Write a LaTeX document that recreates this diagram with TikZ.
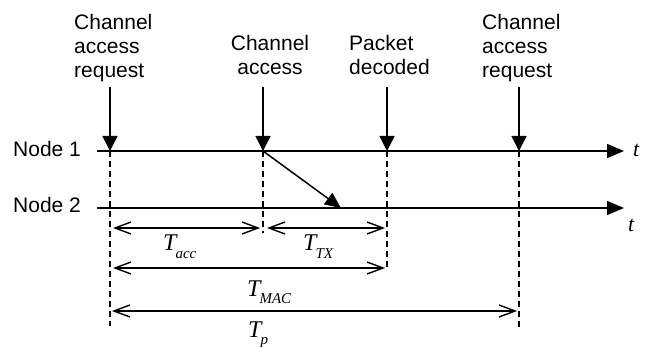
\documentclass[tikz,border=0pt]{standalone}
\usepackage{fontspec}
\setmainfont{Liberation Sans}
\newfontfamily\tms{Liberation Serif}
\usetikzlibrary{arrows.meta}
\newcommand{\Tlab}[1]{{\tms\itshape\fontsize{24}{24}\selectfont T\kern-1pt\raisebox{-7pt}{\fontsize{15}{15}\selectfont #1}}}
\begin{document}
\begin{tikzpicture}[x=1pt,y=-1pt,
  lbl/.style={font=\fontsize{21}{24}\selectfont, inner sep=0pt},
  axis/.style={line width=1.5pt, -{Triangle[length=17pt,width=14pt]}},
  evt/.style={line width=1.5pt, -{Triangle[length=15pt,width=15pt]}},
  guide/.style={line width=1.3pt, dash pattern=on 6pt off 4pt},
  dim/.style={line width=1.4pt, {Straight Barb[length=16pt,width=12pt,line width=1.4pt]}-{Straight Barb[length=16pt,width=12pt,line width=1.4pt]}},
  tlab/.style={inner sep=0pt, anchor=base west},
  tvar/.style={inner sep=0pt, font=\tms\itshape\fontsize{22}{22}\selectfont}
]
\useasboundingbox (0,0) rectangle (647,347);

% labels on top
\node[lbl, anchor=north west, align=left] (req1) at (74,14) {Channel\\access\\request};
\node[lbl, anchor=north, align=center] (acc) at (270,35) {Channel\\access};
\node[lbl, anchor=north west, align=left] (dec) at (349,35) {Packet\\decoded};
\node[lbl, anchor=north west, align=left] (req2) at (482,14) {Channel\\access\\request};

\node[lbl, anchor=base west] (n1) at (13,157) {Node 1};
\node[lbl, anchor=base west] (n2) at (13,213) {Node 2};

% axis coordinates
\coordinate (a1s) at (97,151);
\coordinate (a1e) at (624,151);
\coordinate (a2s) at (97,208);
\coordinate (a2e) at (624,208);

\node[tvar, anchor=west] (t1) at (633,150) {t};
\node[tvar, anchor=west] (t2) at (628,225) {t};

% event positions
\coordinate (e1) at (110,151);
\coordinate (e2) at (263,151);
\coordinate (e3) at (387,151);
\coordinate (e4) at (519,151);
\coordinate (s1) at (110,87);
\coordinate (s2) at (263,87);
\coordinate (s3) at (387,87);
\coordinate (s4) at (519,87);
\coordinate (d1) at (110,326);
\coordinate (d2) at (263,233);
\coordinate (d3) at (387,269);
\coordinate (d4) at (519,328);
\coordinate (rx) at (341,208);

% dashed guides
\draw[guide] (e1) -- (d1);
\draw[guide] (e2) -- (d2);
\draw[guide] (e3) -- (d3);
\draw[guide] (e4) -- (d4);

% time axes
\draw[axis] (a1s) -- (a1e);
\draw[axis] (a2s) -- (a2e);

% event arrows
\draw[evt] (s1) -- (e1);
\draw[evt] (s2) -- (e2);
\draw[evt] (s3) -- (e3);
\draw[evt] (s4) -- (e4);

% transmission
\draw[line width=1.5pt, -{Triangle[length=16pt,width=14pt]}] (e2) -- (rx);

% dimension arrows
\coordinate (m1a) at (113,228);
\coordinate (m1b) at (260,228);
\coordinate (m2a) at (267,228);
\coordinate (m2b) at (385,228);
\coordinate (m3a) at (113,268);
\coordinate (m3b) at (385,268);
\coordinate (m4a) at (112,311);
\coordinate (m4b) at (517,311);
\draw[dim] (m1a) -- (m1b);
\draw[dim] (m2a) -- (m2b);
\draw[dim] (m3a) -- (m3b);
\draw[dim] (m4a) -- (m4b);

\node[tlab] (tacc) at (163,251) {\Tlab{acc}};
\node[tlab] (ttx) at (303,251) {\Tlab{TX}};
\node[tlab] (tmac) at (247,296) {\Tlab{MAC}};
\node[tlab] (tp) at (248,337) {\Tlab{p}};
\end{tikzpicture}
\end{document}
